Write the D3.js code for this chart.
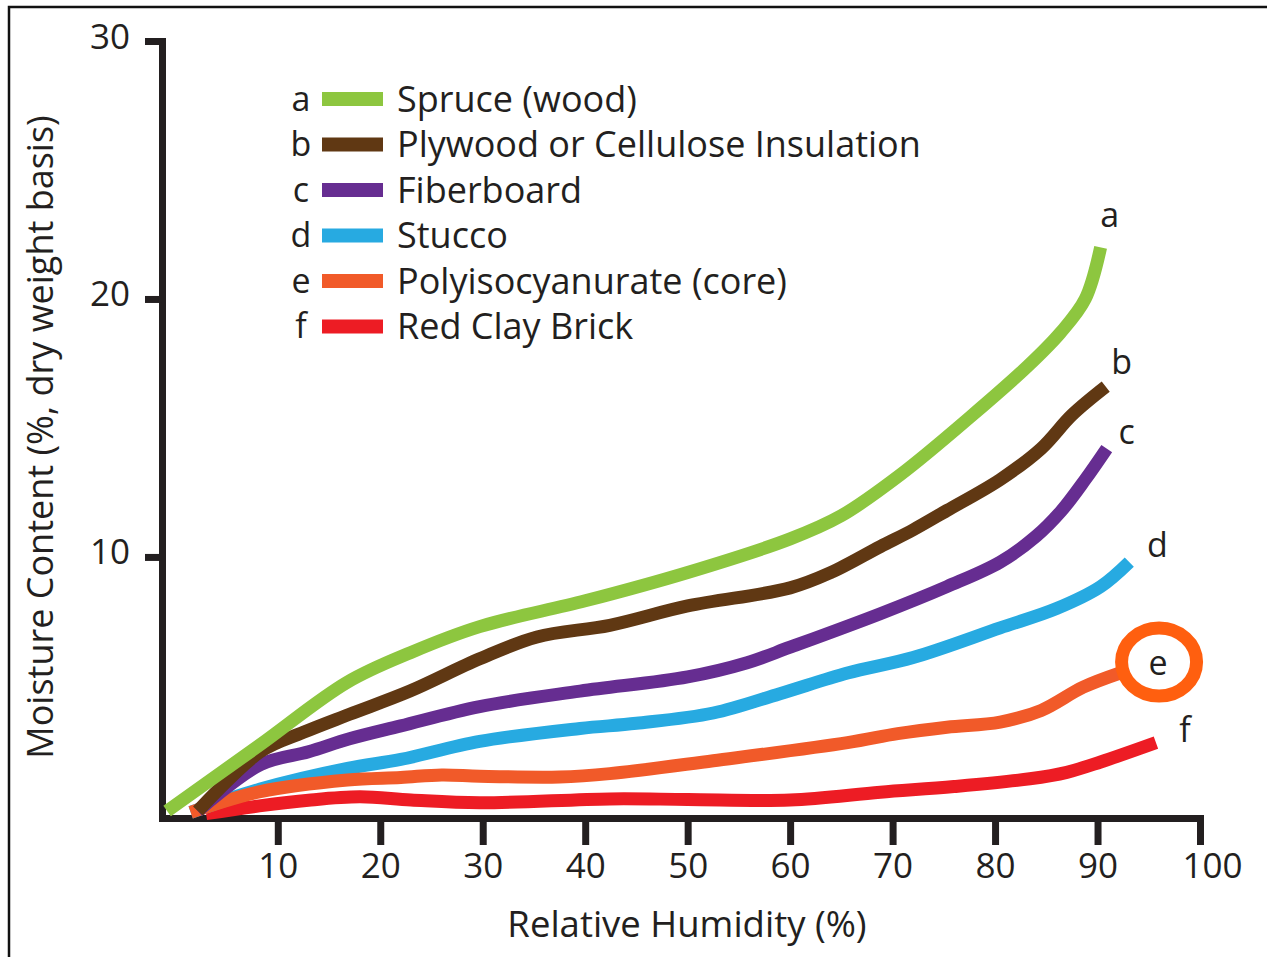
<!DOCTYPE html>
<html>
<head>
<meta charset="utf-8">
<script src="https://cdn.jsdelivr.net/npm/d3@7"></script>
<style>
  body { margin: 0; background: #fff; }
  svg { display: block; font-family: "Open Sans", sans-serif; }
</style>
</head>
<body>
<div id="chart"></div>
<script>
// values: [relative humidity %, moisture content %]
var spruce    = [[-0.8,0.15],[8.2,2.7],[16.8,5.15],[23,6.3],[29.7,7.3],[40,8.3],[50,9.4],[60,10.7],[65,11.6],[70.8,13.2],[77.5,15.4],[83.2,17.4],[86.4,18.7],[88.8,20.0],[90.3,22.0]];
var plywood   = [[2.2,0.15],[8.3,2.45],[12.5,3.2],[17,3.9],[22.9,4.8],[29.7,6.05],[35.3,6.9],[42.4,7.35],[50,8.1],[60,8.8],[64,9.4],[68.8,10.4],[72,11.05],[75.3,11.8],[80.5,13.0],[84.5,14.2],[87.5,15.5],[90.8,16.6]];
var fiber     = [[2.2,0.15],[8.3,1.95],[13,2.45],[17,2.95],[22,3.45],[29.7,4.2],[39.5,4.8],[50,5.35],[55.8,5.9],[60,6.5],[68.8,7.8],[75.3,8.85],[80.5,9.8],[84,10.8],[86.5,11.8],[88.8,13.0],[90.9,14.2]];
var stucco    = [[1.5,0.1],[8.3,1.0],[16.8,1.8],[22,2.15],[29.7,2.85],[39.5,3.35],[45,3.55],[52.5,3.95],[59,4.7],[65.6,5.5],[72,6.1],[80.5,7.25],[86,8.0],[90.3,8.85],[93.1,9.8]];
var polyiso   = [[1.5,0.1],[8.3,0.9],[16.8,1.35],[22,1.45],[26,1.55],[29.7,1.5],[37.5,1.47],[42.4,1.6],[52.5,2.1],[65.6,2.8],[70.5,3.15],[75.3,3.4],[80.5,3.6],[84.5,4.05],[88.6,4.95],[92.2,5.5]];
var brick     = [[3,0.05],[8.2,0.35],[13,0.57],[18,0.7],[23,0.58],[29.7,0.47],[42.4,0.62],[50,0.6],[60,0.58],[68.8,0.88],[76,1.1],[83.4,1.4],[87,1.65],[90.3,2.05],[95.7,2.8]];

var letters = ["a", "b", "c", "d", "e", "f"];
var names = ["Spruce (wood)", "Plywood or Cellulose Insulation", "Fiberboard", "Stucco", "Polyisocyanurate (core)", "Red Clay Brick"];
var colors = ["#8dc63f", "#603813", "#662d91", "#27aae1", "#f15a29", "#ed1c24"];
var xTicks = [10, 20, 30, 40, 50, 60, 70, 80, 90, 100];
var yTicks = [10, 20, 30];

var series = [spruce, plywood, fiber, stucco, polyiso, brick];
// paint order, bottom first
var drawOrder = [5, 3, 4, 2, 1, 0];
// where each end letter sits relative to the line end (px)
var labelOffset = [[9,-32],[16,-25],[20,-16],[28,-17],[38,-10],[29,-13]];

var width = 1267, height = 957;
var ink = "#231f20";

var svg = d3.select("#chart").append("svg")
    .attr("width", width)
    .attr("height", height);

// frame
svg.append("path")
    .attr("d", "M9," + height + "V7H" + width)
    .attr("fill", "none")
    .attr("stroke", "#111")
    .attr("stroke-width", 2.5);

var x = d3.scaleLinear().domain([-1.3, 100]).range([162, 1200]);
var y = d3.scaleLinear().domain([-0.12, 30]).range([818, 41]);

// axes
var xAxis = svg.append("g")
    .attr("transform", "translate(0," + y(-0.12) + ")")
    .call(d3.axisBottom(x).tickValues(xTicks).tickSize(27).tickSizeOuter(0).tickPadding(8));
var yAxis = svg.append("g")
    .attr("transform", "translate(" + x(-1.3) + ",0)")
    .call(d3.axisLeft(y).tickValues(yTicks).tickSize(17).tickSizeOuter(0).tickPadding(15));

[xAxis, yAxis].forEach(function(g) {
    g.select(".domain").attr("stroke", ink).attr("stroke-width", 7).attr("stroke-linecap", "square");
    g.selectAll(".tick line").attr("stroke", ink).attr("stroke-width", 7);
    g.selectAll(".tick text").attr("fill", ink).attr("font-size", 35).attr("font-family", "Open Sans, sans-serif");
});
xAxis.selectAll(".tick text")
    .attr("dy", "0.72em")
    .attr("dx", function(d) { return d === 100 ? 12 : 0; });
yAxis.selectAll(".tick text").attr("dy", "0.2em");

// axis titles
svg.append("text")
    .attr("x", 687)
    .attr("y", 937)
    .attr("text-anchor", "middle")
    .attr("font-size", 36.5)
    .attr("fill", ink)
    .text("Relative Humidity (%)");

svg.append("text")
    .attr("transform", "translate(53,437) rotate(-90)")
    .attr("text-anchor", "middle")
    .attr("font-size", 36)
    .attr("fill", ink)
    .text("Moisture Content (%, dry weight basis)");

// curves
var line = d3.line()
    .x(function(d) { return x(d[0]); })
    .y(function(d) { return y(d[1]); })
    .curve(d3.curveCatmullRom.alpha(0.5));

svg.append("g").selectAll("path")
    .data(drawOrder)
    .enter()
    .append("path")
    .attr("d", function(i) { return line(series[i]); })
    .attr("fill", "none")
    .attr("stroke", function(i) { return colors[i]; })
    .attr("stroke-width", 13)
    .attr("stroke-linejoin", "round");

// end letters
svg.append("g").selectAll("text")
    .data(series)
    .enter()
    .append("text")
    .attr("x", function(d, i) { return x(d[d.length - 1][0]) + labelOffset[i][0]; })
    .attr("y", function(d, i) { return y(d[d.length - 1][1]) + labelOffset[i][1]; })
    .attr("dy", "0.35em")
    .attr("text-anchor", "middle")
    .attr("font-size", 34)
    .attr("fill", ink)
    .text(function(d, i) { return letters[i]; });

// highlight ring round "e"
var eEnd = polyiso[polyiso.length - 1];
svg.append("ellipse")
    .attr("cx", x(eEnd[0]) + 39)
    .attr("cy", y(eEnd[1]) - 11)
    .attr("rx", 37.5)
    .attr("ry", 34)
    .attr("fill", "none")
    .attr("stroke", "#ff5f0f")
    .attr("stroke-width", 13);

// legend
var legend = svg.append("g").selectAll("g")
    .data(names)
    .enter()
    .append("g")
    .attr("transform", function(d, i) { return "translate(0," + (99 + i * 45.5) + ")"; });

legend.append("text")
    .attr("x", 301)
    .attr("dy", "0.35em")
    .attr("text-anchor", "middle")
    .attr("font-size", 34)
    .attr("fill", ink)
    .text(function(d, i) { return letters[i]; });

legend.append("rect")
    .attr("x", 322)
    .attr("y", -7)
    .attr("width", 61)
    .attr("height", 14)
    .attr("fill", function(d, i) { return colors[i]; });

legend.append("text")
    .attr("x", 397)
    .attr("dy", "0.35em")
    .attr("font-size", 36)
    .attr("fill", ink)
    .text(function(d) { return d; });
</script>
</body>
</html>
